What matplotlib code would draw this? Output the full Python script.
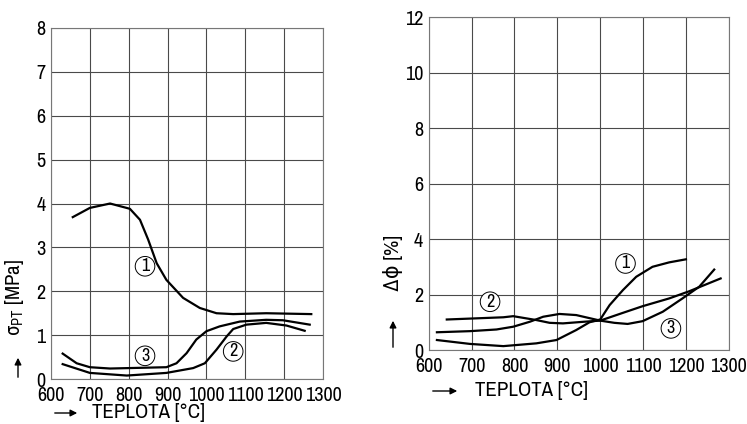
import matplotlib
matplotlib.use("Agg")
import matplotlib.pyplot as plt

plt.rcParams['font.family'] = ['Archivo Narrow', 'Roboto Condensed', 'DejaVu Sans']
plt.rcParams['mathtext.fontset'] = 'custom'
plt.rcParams['mathtext.rm'] = 'Roboto Condensed'
plt.rcParams['mathtext.it'] = 'Roboto Condensed'
plt.rcParams['mathtext.sf'] = 'Roboto Condensed'

# levy graf: sigma_PT [MPa]
x1_l = [656, 700, 752, 803, 829, 850, 872, 897, 940, 983, 1026, 1069, 1154, 1270]
y1_l = [3.69, 3.90, 4.00, 3.88, 3.63, 3.18, 2.64, 2.26, 1.85, 1.62, 1.50, 1.48, 1.50, 1.48]
x3_l = [630, 666, 700, 752, 897, 923, 949, 974, 1000, 1034, 1086, 1154, 1197, 1266]
y3_l = [0.58, 0.36, 0.27, 0.24, 0.27, 0.36, 0.59, 0.90, 1.09, 1.20, 1.31, 1.35, 1.34, 1.24]
x2_l = [630, 700, 795, 897, 966, 996, 1026, 1052, 1069, 1103, 1154, 1206, 1253]
y2_l = [0.34, 0.14, 0.08, 0.14, 0.25, 0.36, 0.67, 0.97, 1.14, 1.24, 1.28, 1.22, 1.10]

# pravy graf: delta phi [%]
x1_r = [619, 696, 774, 851, 898, 944, 975, 1000, 1022, 1053, 1084, 1122, 1161, 1200]
y1_r = [0.36, 0.22, 0.14, 0.24, 0.36, 0.72, 1.00, 1.10, 1.62, 2.16, 2.64, 3.00, 3.16, 3.27]
x2_r = [642, 774, 797, 828, 851, 882, 913, 963, 1000, 1053, 1099, 1161, 1208, 1281]
y2_r = [1.10, 1.18, 1.22, 1.14, 1.08, 0.98, 0.96, 1.02, 1.06, 1.34, 1.58, 1.86, 2.12, 2.58]
x3_r = [619, 696, 758, 797, 836, 867, 905, 944, 1000, 1033, 1064, 1099, 1146, 1192, 1231, 1266]
y3_r = [0.64, 0.68, 0.74, 0.84, 1.02, 1.20, 1.30, 1.26, 1.06, 0.98, 0.94, 1.04, 1.38, 1.86, 2.28, 2.90]

xticks = [600, 700, 800, 900, 1000, 1100, 1200, 1300]
yticks_l = [0, 1, 2, 3, 4, 5, 6, 7, 8]
yticks_r = [0, 2, 4, 6, 8, 10, 12]

# popisky krivek (cislo, x, y)
labels_l = [("1", 842, 2.57), ("3", 842, 0.53), ("2", 1069, 0.63)]
labels_r = [("1", 1059, 3.12), ("2", 743, 1.74), ("3", 1165, 0.78)]

fig = plt.figure(figsize=(7.47, 4.24), dpi=100)
ax_l = fig.add_axes([0.0683, 0.106, 0.364, 0.828])
ax_r = fig.add_axes([0.574, 0.1745, 0.4016, 0.785])


def setup(ax, yticks):
    ax.set_xlim(600, 1300)
    ax.set_ylim(yticks[0], yticks[-1])
    ax.set_xticks(xticks)
    ax.set_yticks(yticks)
    ax.grid(True, color='#4a4a4a', linewidth=0.8)
    ax.tick_params(length=0, labelsize=14.5)
    ax.tick_params(axis='x', pad=5)
    ax.tick_params(axis='y', pad=4)
    for s in ax.spines.values():
        s.set_color('#777777')
        s.set_linewidth(0.8)


def circled(ax, items):
    for t, x, y in items:
        ax.text(x, y, t, ha='center', va='center', fontsize=13,
                bbox=dict(boxstyle='circle,pad=0.1', fc='white', ec='black', lw=0.7))


setup(ax_l, yticks_l)
for xs, ys in [(x1_l, y1_l), (x2_l, y2_l), (x3_l, y3_l)]:
    ax_l.plot(xs, ys, color='black', linewidth=1.6)
circled(ax_l, labels_l)

setup(ax_r, yticks_r)
for xs, ys in [(x1_r, y1_r), (x2_r, y2_r), (x3_r, y3_r)]:
    ax_r.plot(xs, ys, color='black', linewidth=1.6)
circled(ax_r, labels_r)


# popisy os se sipkami
def fx(px):
    return px / 747


def fy(py):
    return 1 - py / 424


arrow = dict(arrowstyle='-|>', color='black', lw=1.0, mutation_scale=10)

fig.text(fx(15), fy(297), r'$\sigma_{\mathrm{PT}}$ [MPa]', rotation=90, ha='center', va='center', fontsize=15)
plt.annotate('', xy=(fx(18), fy(355)), xytext=(fx(18), fy(380)), xycoords='figure fraction', arrowprops=arrow)
fig.text(fx(92), fy(413), 'TEPLOTA [°C]', ha='left', va='center', fontsize=15)
plt.annotate('', xy=(fx(80), fy(413)), xytext=(fx(52), fy(413)), xycoords='figure fraction', arrowprops=arrow)

fig.text(fx(393), fy(263), 'Δϕ [%]', rotation=90, ha='center', va='center', fontsize=15)
plt.annotate('', xy=(fx(393), fy(318)), xytext=(fx(393), fy(350)), xycoords='figure fraction', arrowprops=arrow)
fig.text(fx(475), fy(391), 'TEPLOTA [°C]', ha='left', va='center', fontsize=15)
plt.annotate('', xy=(fx(460), fy(391)), xytext=(fx(430), fy(391)), xycoords='figure fraction', arrowprops=arrow)

fig.savefig('out.png', dpi=100)
